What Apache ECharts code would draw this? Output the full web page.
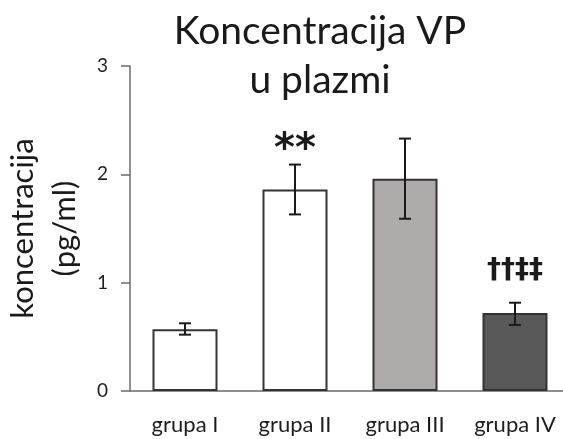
<!DOCTYPE html>
<html>
<head>
<meta charset="utf-8">
<script src="https://cdn.jsdelivr.net/npm/echarts@6/dist/echarts.min.js"></script>
<style>
html,body{margin:0;padding:0;background:#fff;}
#chart{width:563px;height:439px;}
</style>
</head>
<body>
<div id="chart"></div>
<script>
const categories = ['grupa I', 'grupa II', 'grupa III', 'grupa IV'];
const means = [0.57, 1.86, 1.96, 0.72];
const errLow = [0.52, 1.63, 1.59, 0.61];
const errHigh = [0.625, 2.09, 2.33, 0.815];
const barColors = ['#ffffff', '#ffffff', '#afabab', '#595959'];
const markers = ['', '**', '', '††‡‡'];
const yMin = 0, yMax = 3, yInterval = 1;

const FONT = 'Lato';
const chart = echarts.init(document.getElementById('chart'), null, {renderer: 'canvas'});

const errData = categories.map((c, i) => [i, errLow[i], errHigh[i]]);

function markerStyle(m) {
  if (m.indexOf('*') >= 0) return {font: 'bold 40px "DejaVu Sans"', dy: 14};
  return {font: 'bold 28px "DejaVu Sans"', dy: 32};
}

chart.setOption({
  backgroundColor: '#ffffff',
  animation: false,
  title: {
    text: 'Koncentracija VP\nu plazmi',
    left: 315,
    top: 2,
    textAlign: 'center',
    textStyle: {fontFamily: FONT, fontSize: 39, fontWeight: 'normal', color: '#1a1a1a', lineHeight: 49}
  },
  grid: {left: 130, top: 66, width: 440, height: 325, outerBoundsMode: 'none', containLabel: false},
  xAxis: {
    type: 'category',
    data: categories,
    axisLine: {lineStyle: {color: '#6b6b6b', width: 1.5}},
    axisTick: {show: false},
    axisLabel: {fontFamily: FONT, fontSize: 22, color: '#1e1e1e', margin: 23}
  },
  yAxis: {
    type: 'value',
    min: yMin, max: yMax, interval: yInterval,
    name: 'koncentracija\n(pg/ml)',
    nameLocation: 'middle',
    nameRotate: 90,
    nameGap: 44,
    nameTextStyle: {fontFamily: FONT, fontSize: 31, color: '#1a1a1a', lineHeight: 42},
    axisLine: {show: true, lineStyle: {color: '#6b6b6b', width: 1.5}},
    axisTick: {show: true, length: 9, lineStyle: {color: '#6b6b6b', width: 1.5}},
    splitLine: {show: false},
    axisLabel: {fontFamily: FONT, fontSize: 19, color: '#1e1e1e', margin: 22}
  },
  series: [
    {
      type: 'bar',
      data: means.map((v, i) => ({value: v, itemStyle: {color: barColors[i]}})),
      barWidth: 65,
      itemStyle: {borderColor: '#333', borderWidth: 2}
    },
    {
      type: 'custom',
      data: errData,
      z: 10,
      renderItem: function (params, api) {
        const idx = api.value(0);
        const hi = api.coord([idx, api.value(2)]);
        const lo = api.coord([idx, api.value(1)]);
        const cap = 6;
        const st = {stroke: '#1a1a1a', lineWidth: 2};
        const children = [
          {type: 'line', shape: {x1: hi[0], y1: hi[1], x2: lo[0], y2: lo[1]}, style: st},
          {type: 'line', shape: {x1: hi[0] - cap, y1: hi[1], x2: hi[0] + cap, y2: hi[1]}, style: st},
          {type: 'line', shape: {x1: lo[0] - cap, y1: lo[1], x2: lo[0] + cap, y2: lo[1]}, style: st}
        ];
        const m = markers[params.dataIndex];
        if (m) {
          const ms = markerStyle(m);
          children.push({
            type: 'text',
            style: {
              text: m, x: hi[0], y: hi[1] - ms.dy,
              align: 'center', verticalAlign: 'middle',
              font: ms.font, fill: '#1a1a1a'
            }
          });
        }
        return {type: 'group', children: children};
      }
    }
  ]
});
</script>
</body>
</html>
